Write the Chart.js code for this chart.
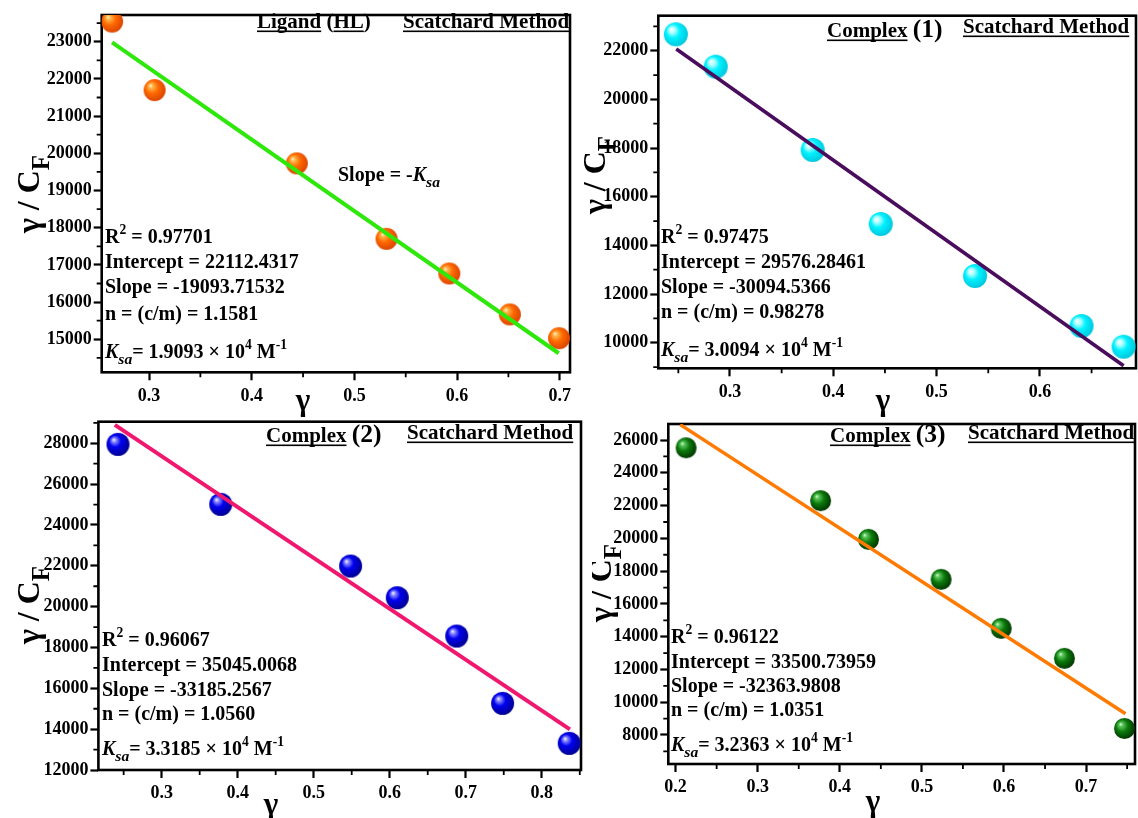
<!DOCTYPE html>
<html>
<head>
<meta charset="utf-8">
<script src="https://cdn.jsdelivr.net/npm/chart.js@4.4.0/dist/chart.umd.min.js"></script>
<style>
  html, body { margin: 0; padding: 0; background: #fff; }
  #wrap { position: relative; width: 1138px; height: 818px; overflow: hidden; background: #fff; }
  canvas { position: absolute; }
</style>
</head>
<body>
<div id="wrap">
  <canvas id="c0"></canvas>
  <canvas id="c1"></canvas>
  <canvas id="c2"></canvas>
  <canvas id="c3"></canvas>
</div>
<script>
// ---------- Ligand (HL) ----------
const ligandGamma    = [0.264, 0.3054, 0.4439, 0.5313, 0.5924, 0.6514, 0.6993];
const ligandRatio    = [23540, 21700, 19730, 17700, 16770, 15670, 15030];
const ligandFitGamma = [0.264, 0.699];
const ligandFitRatio = [22985, 14625];
const ligandXTicks   = [0.3, 0.4, 0.5, 0.6, 0.7];
const ligandXMinor   = [0.35, 0.45, 0.55, 0.65];
const ligandYTicks   = [15000, 16000, 17000, 18000, 19000, 20000, 21000, 22000, 23000];
const ligandYMinor   = [14500, 15500, 16500, 17500, 18500, 19500, 20500, 21500, 22500, 23500];
const ligandStats    = ['0.97701', '22112.4317', '-19093.71532', '1.1581', '1.9093'];

// ---------- Complex (1) ----------
const c1Gamma    = [0.2476, 0.2862, 0.380, 0.4459, 0.5372, 0.6403, 0.681];
const c1Ratio    = [22674, 21343, 17919, 14878, 12742, 10687, 9836];
const c1FitGamma = [0.248, 0.681];
const c1FitRatio = [22070, 9055];
const c1XTicks   = [0.3, 0.4, 0.5, 0.6];
const c1XMinor   = [0.25, 0.35, 0.45, 0.55, 0.65];
const c1YTicks   = [10000, 12000, 14000, 16000, 18000, 20000, 22000];
const c1YMinor   = [9000, 11000, 13000, 15000, 17000, 19000, 21000, 23000];
const c1Stats    = ['0.97475', '29576.28461', '-30094.5366', '0.98278', '3.0094'];

// ---------- Complex (2) ----------
const c2Gamma    = [0.2425, 0.3777, 0.5485, 0.6099, 0.6881, 0.7485, 0.8361];
const c2Ratio    = [27950, 25012, 21990, 20437, 18561, 15264, 13305];
const c2FitGamma = [0.2384, 0.837];
const c2FitRatio = [28900, 13990];
const c2XTicks   = [0.3, 0.4, 0.5, 0.6, 0.7, 0.8];
const c2XMinor   = [0.25, 0.35, 0.45, 0.55, 0.65, 0.75, 0.85];
const c2YTicks   = [12000, 14000, 16000, 18000, 20000, 22000, 24000, 26000, 28000];
const c2YMinor   = [13000, 15000, 17000, 19000, 21000, 23000, 25000, 27000, 29000];
const c2Stats    = ['0.96067', '35045.0068', '-33185.2567', '1.0560', '3.3185'];

// ---------- Complex (3) ----------
const c3Gamma    = [0.2128, 0.3766, 0.4349, 0.5234, 0.5966, 0.6736, 0.7468];
const c3Ratio    = [25530, 22300, 19940, 17500, 14510, 12680, 8400];
const c3FitGamma = [0.2056, 0.748];
const c3FitRatio = [26940, 9300];
const c3XTicks   = [0.2, 0.3, 0.4, 0.5, 0.6, 0.7];
const c3XMinor   = [0.25, 0.35, 0.45, 0.55, 0.65, 0.75];
const c3YTicks   = [8000, 10000, 12000, 14000, 16000, 18000, 20000, 22000, 24000, 26000];
const c3YMinor   = [7000, 9000, 11000, 13000, 15000, 17000, 19000, 21000, 23000, 25000];
const c3Stats    = ['0.96122', '33500.73959', '-32363.9808', '1.0351', '3.2363'];

const SERIF = '"Liberation Serif", "Times New Roman", serif';

// shaded ball used as the point marker
function sphere(r, stops) {
  const s = Math.ceil(r * 2 + 2);
  const c = document.createElement('canvas');
  c.width = c.height = s;
  const g = c.getContext('2d');
  const cx = s / 2, cy = s / 2;
  const grad = g.createRadialGradient(cx - r * 0.38, cy - r * 0.42, 0, cx - r * 0.1, cy - r * 0.1, r * 1.15);
  stops.forEach(([o, col]) => grad.addColorStop(o, col));
  g.fillStyle = grad;
  g.beginPath();
  g.arc(cx, cy, r, 0, Math.PI * 2);
  g.fill();
  return c;
}

// draws a run of text pieces; flags: u underline, i italic, sup, sub, big
function rich(ctx, x, y, segs, size) {
  let cx = x;
  ctx.textAlign = 'left';
  ctx.textBaseline = 'alphabetic';
  for (const [t, k = ''] of segs) {
    const f = new Set(k.split(' '));
    let fs = size, dy = 0;
    if (f.has('sup')) { fs = size * 0.68; dy = -size * 0.45; }
    if (f.has('sub')) { fs = size * 0.78; dy = size * 0.32; }
    if (f.has('big')) { fs = size * 1.22; }
    ctx.font = (f.has('i') ? 'italic ' : '') + 'bold ' + fs + 'px ' + SERIF;
    ctx.fillText(t, cx, y + dy);
    const w = ctx.measureText(t).width;
    if (f.has('u')) ctx.fillRect(cx, y + 2.5, w, 1.6);
    cx += w;
  }
}

function statLines(s) {
  return [
    [['R'], ['2', 'sup'], [' = ' + s[0]]],
    [['Intercept = ' + s[1]]],
    [['Slope = ' + s[2]]],
    [['n = (c/m) = ' + s[3]]],
    [['K', 'i'], ['sa', 'i sub'], ['= ' + s[4] + ' \u00d7 10'], ['4', 'sup'], [' M'], ['-1', 'sup']]
  ];
}

const panels = [
  {
    rect: [0, 0, 580, 420], frame: [101.7, 15, 570, 372.3],
    xr: [0.2539, 0.71], yr: [14113, 23718],
    gx: ligandGamma, gy: ligandRatio, fx: ligandFitGamma, fy: ligandFitRatio,
    xt: ligandXTicks, xm: ligandXMinor, yt: ligandYTicks, ym: ligandYMinor,
    ball: sphere(11, [[0, '#fff7d0'], [0.18, '#ffb347'], [0.5, '#ff6a00'], [1, '#d84300']]), r: 11,
    line: '#2ee80c', lw: 4,
    titles: [
      { x: 257, y: 28, segs: [['Ligand', 'u'], [' ('], ['HL', 'u'], [')']] },
      { x: 403, y: 28, segs: [['Scatchard Method', 'u']] }
    ],
    extra: { x: 338, y: 181, segs: [['Slope = -'], ['K', 'i'], ['sa', 'i sub']] },
    stats: ligandStats, sx: 105, sy: [243, 268, 293, 320, 358],
    yTitle: [28, 194], xTitle: [303, 402]
  },
  {
    rect: [580, 0, 558, 420], frame: [658.3, 15.7, 1136, 368.3],
    xr: [0.2306, 0.693], yr: [8948, 23438],
    gx: c1Gamma, gy: c1Ratio, fx: c1FitGamma, fy: c1FitRatio,
    xt: c1XTicks, xm: c1XMinor, yt: c1YTicks, ym: c1YMinor,
    ball: sphere(12, [[0, '#ffffff'], [0.2, '#b8ffff'], [0.5, '#00f2ff'], [1, '#00c4dc']]), r: 12,
    line: '#4a0c5c', lw: 3.6,
    titles: [
      { x: 827, y: 37, segs: [['Complex', 'u'], [' '], ['(1)', 'big']] },
      { x: 963, y: 33, segs: [['Scatchard Method', 'u']] }
    ],
    stats: c1Stats, sx: 661, sy: [243, 268, 293, 318, 356],
    yTitle: [594, 175], xTitle: [883, 402]
  },
  {
    rect: [0, 418, 592, 400], frame: [98.4, 421.7, 581, 770],
    xr: [0.2168, 0.8516], yr: [12000, 29058],
    gx: c2Gamma, gy: c2Ratio, fx: c2FitGamma, fy: c2FitRatio,
    xt: c2XTicks, xm: c2XMinor, yt: c2YTicks, ym: c2YMinor,
    ball: sphere(11.5, [[0, '#ffffff'], [0.16, '#8c8cff'], [0.45, '#0000f0'], [1, '#00008c']]), r: 11.5,
    line: '#f0186e', lw: 4,
    titles: [
      { x: 266, y: 442, segs: [['Complex', 'u'], [' '], ['(2)', 'big']] },
      { x: 407, y: 439, segs: [['Scatchard Method', 'u']] }
    ],
    stats: c2Stats, sx: 102, sy: [646, 671, 696, 720, 755],
    yTitle: [28, 605], xTitle: [271, 806]
  },
  {
    rect: [592, 418, 546, 400], frame: [668.3, 424, 1135, 764],
    xr: [0.1911, 0.7596], yr: [6230, 26980],
    gx: c3Gamma, gy: c3Ratio, fx: c3FitGamma, fy: c3FitRatio,
    xt: c3XTicks, xm: c3XMinor, yt: c3YTicks, ym: c3YMinor,
    ball: sphere(10.5, [[0, '#e8ffe8'], [0.16, '#5cc85c'], [0.5, '#0b7a0b'], [1, '#023302']]), r: 10.5,
    line: '#ff7a00', lw: 3.5,
    titles: [
      { x: 830, y: 442, segs: [['Complex', 'u'], [' '], ['(3)', 'big']] },
      { x: 968, y: 439, segs: [['Scatchard Method', 'u']] }
    ],
    stats: c3Stats, sx: 671, sy: [643, 668, 692, 716, 751],
    yTitle: [600, 583], xTitle: [873, 803]
  }
];

panels.forEach((p, i) => {
  const cv = document.getElementById('c' + i);
  const [rx, ry, rw, rh] = p.rect;
  const [fl, ft, fr, fb] = p.frame;
  cv.width = rw; cv.height = rh;
  cv.style.left = rx + 'px'; cv.style.top = ry + 'px';
  cv.style.width = rw + 'px'; cv.style.height = rh + 'px';

  const deco = {
    id: 'deco' + i,
    beforeDatasetsDraw(chart) {
      const ctx = chart.ctx, a = chart.chartArea;
      const xs = chart.scales.x, ys = chart.scales.y;
      ctx.save();
      ctx.strokeStyle = '#000';
      ctx.lineWidth = 1.8;
      ctx.beginPath();
      p.xm.forEach(v => {
        const px = xs.getPixelForValue(v);
        ctx.moveTo(px, a.bottom); ctx.lineTo(px, a.bottom + 5);
      });
      p.ym.forEach(v => {
        const py = ys.getPixelForValue(v);
        ctx.moveTo(a.left, py); ctx.lineTo(a.left - 5, py);
      });
      ctx.stroke();
      ctx.lineWidth = 2.6;
      ctx.strokeRect(a.left, a.top, a.right - a.left, a.bottom - a.top);
      ctx.restore();
    },
    afterDraw(chart) {
      const ctx = chart.ctx;
      ctx.save();
      ctx.translate(-rx, -ry);
      ctx.fillStyle = '#000';
      p.titles.forEach(t => rich(ctx, t.x, t.y, t.segs, 21));
      if (p.extra) rich(ctx, p.extra.x, p.extra.y, p.extra.segs, 20);
      statLines(p.stats).forEach((segs, k) => rich(ctx, p.sx, p.sy[k], segs, 20));

      // y axis title, rotated
      ctx.save();
      ctx.translate(p.yTitle[0], p.yTitle[1]);
      ctx.rotate(-Math.PI / 2);
      ctx.font = 'bold 32px ' + SERIF;
      const main = '\u03b3 / C';
      const w1 = ctx.measureText(main).width;
      ctx.font = 'bold 25px ' + SERIF;
      const w2 = ctx.measureText('F').width;
      rich(ctx, -(w1 + w2) / 2, 11, [[main], ['F', 'sub']], 32);
      ctx.restore();

      // x axis title
      ctx.font = 'bold 31px ' + SERIF;
      ctx.textAlign = 'center';
      ctx.textBaseline = 'middle';
      ctx.fillText('\u03b3', p.xTitle[0], p.xTitle[1]);
      ctx.restore();
    }
  };

  const tickFont = { family: SERIF, weight: 'bold', size: 18 };
  const gridOpts = { drawOnChartArea: false, drawTicks: true, tickLength: 8, tickWidth: 2.2, tickColor: '#000', color: '#000' };

  new Chart(cv, {
    type: 'scatter',
    data: {
      datasets: [
        {
          data: p.fx.map((g, k) => ({ x: g, y: p.fy[k] })),
          showLine: true, borderColor: p.line, borderWidth: p.lw,
          pointRadius: 0, pointHoverRadius: 0, fill: false, order: 0, borderCapStyle: 'butt'
        },
        {
          data: p.gx.map((g, k) => ({ x: g, y: p.gy[k] })),
          showLine: false, pointStyle: p.ball, pointRadius: p.r, pointHoverRadius: p.r, order: 1
        }
      ]
    },
    options: {
      responsive: false, animation: false, events: [], devicePixelRatio: 1,
      layout: { autoPadding: false, padding: { left: 0, top: ft - ry, right: rx + rw - fr, bottom: 0 } },
      plugins: { legend: { display: false }, tooltip: { enabled: false } },
      scales: {
        x: {
          type: 'linear', min: p.xr[0], max: p.xr[1],
          afterBuildTicks: s => { s.ticks = p.xt.map(v => ({ value: v })); },
          afterFit: s => { s.height = ry + rh - fb; s.paddingLeft = 0; s.paddingRight = 0; },
          grid: gridOpts, border: { display: false },
          ticks: { font: tickFont, color: '#000', padding: 5, maxRotation: 0, autoSkip: false, callback: v => v.toFixed(1) }
        },
        y: {
          type: 'linear', min: p.yr[0], max: p.yr[1],
          afterBuildTicks: s => { s.ticks = p.yt.map(v => ({ value: v })); },
          afterFit: s => { s.width = fl - rx; s.paddingTop = 0; s.paddingBottom = 0; },
          grid: gridOpts, border: { display: false },
          ticks: { font: tickFont, color: '#000', padding: 2, autoSkip: false, callback: v => String(v) }
        }
      }
    },
    plugins: [deco]
  });
});
</script>
</body>
</html>
